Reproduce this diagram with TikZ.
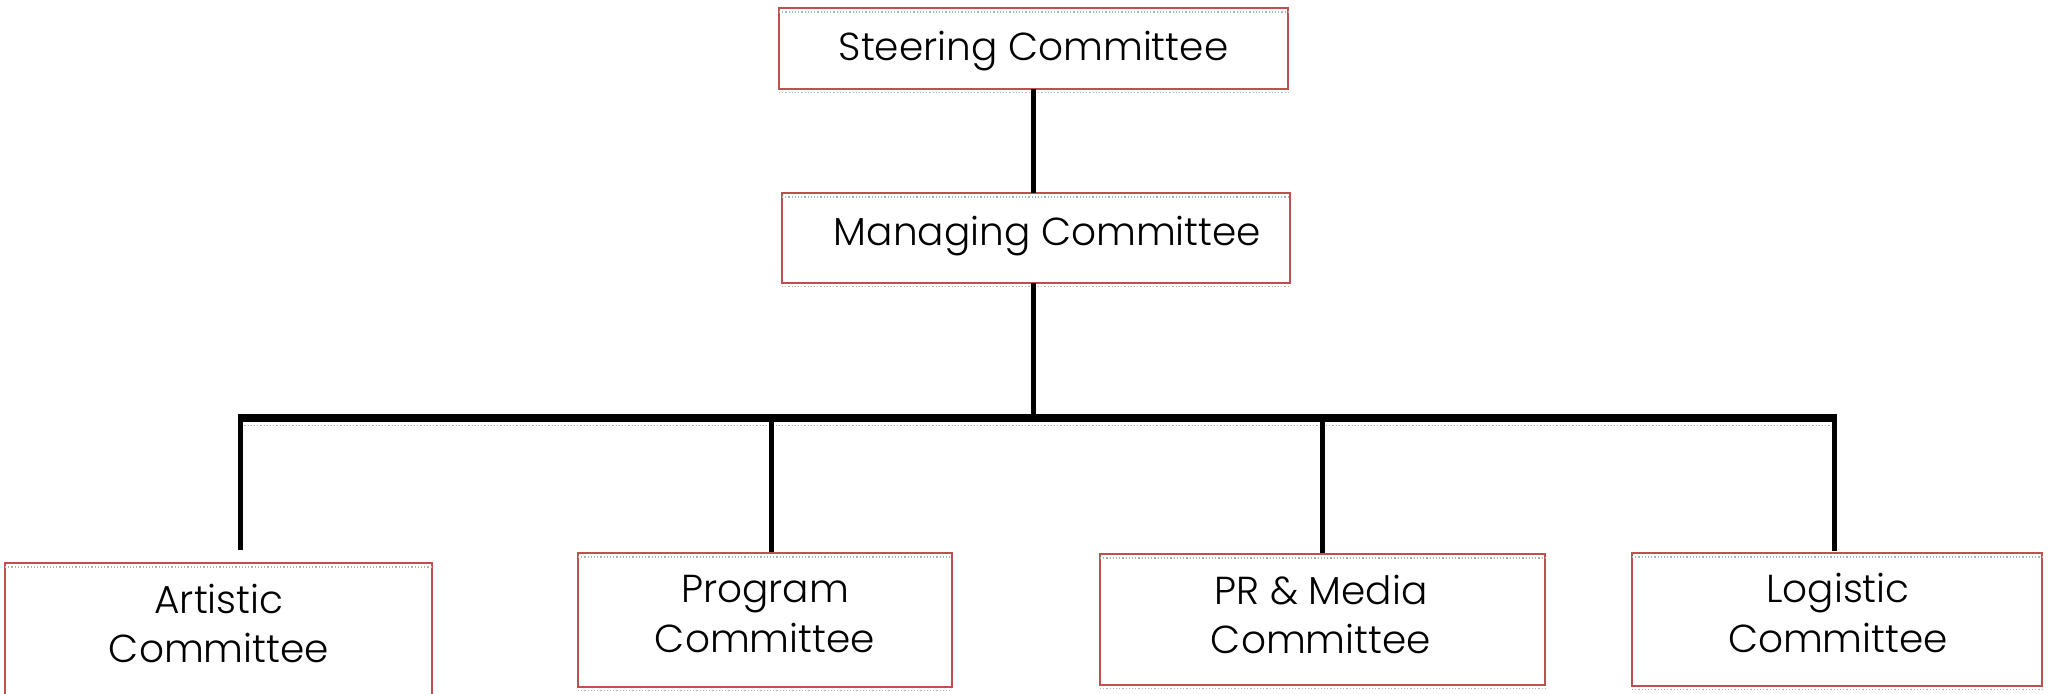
\documentclass[tikz,border=0pt]{standalone}
\usepackage{fontspec}
\IfFontExistsTF{Poppins Light}{\setmainfont{Poppins Light}}{\setmainfont{Poppins}}
\definecolor{boxred}{RGB}{192,80,77}
\begin{document}
\begin{tikzpicture}[x=1pt,y=-1pt,
  cbox/.style={draw=boxred, line width=2pt, rectangle, inner sep=0pt, outer sep=0pt},
  lbl/.style={anchor=base, inner sep=0pt, font=\fontsize{39}{47}\selectfont},
  grayline/.style={draw=black!30, line width=1.2pt, dotted},
  conn/.style={draw=black, line width=5pt},
  barline/.style={draw=black, line width=7.5pt}]
\path[use as bounding box] (0,0) rectangle (2049,693);
\clip (0,0) rectangle (2049,693);
% boxes
\node[cbox, minimum width=509pt, minimum height=81pt] (steer) at (1033.5,48.5) {};
\node[cbox, minimum width=508pt, minimum height=90pt] (manag) at (1036,238) {};
\node[cbox, minimum width=427pt, minimum height=134pt] (art) at (218.5,630) {};
\node[cbox, minimum width=374pt, minimum height=134pt] (prog) at (765,620) {};
\node[cbox, minimum width=445pt, minimum height=131pt] (pr) at (1322.5,619.5) {};
\node[cbox, minimum width=410pt, minimum height=133pt] (log) at (1837,619.5) {};
% faint gray text-box lines
\foreach \b in {steer,manag,art,prog,pr,log}{
  \draw[grayline] ([yshift=-4pt]\b.north west) -- ([yshift=-4pt]\b.north east);
  \draw[grayline] ([yshift=-3.5pt]\b.south west) -- ([yshift=-3.5pt]\b.south east);
}
% texts
\node[lbl] (steerT) at (1033.5,60) {Steering Committee};
\node[lbl] (managT) at (1047.5,245) {Managing Committee};
\node[lbl] (artT1) at (219,613) {Artistic};
\node[lbl] (artT2) at (219,662) {Committee};
\node[lbl] (progT1) at (765,602) {Program};
\node[lbl] (progT2) at (765,652) {Committee};
\node[lbl] (prT1) at (1321,604) {PR \& Media};
\node[lbl] (prT2) at (1321,653) {Committee};
\node[lbl] (logT1) at (1838,602) {Logistic};
\node[lbl] (logT2) at (1838,652) {Committee};
% connectors
\coordinate (hub) at (1033,418);
\coordinate (barL) at (240.5,418);
\coordinate (barR) at (1834.5,418);
\coordinate (progC) at (771,418);
\coordinate (prC) at (1322,418);
\draw[conn] (hub |- steer.south) -- (hub |- manag.north);
\draw[conn, shorten >=2pt] (hub |- manag.south) -- (hub);
\draw[grayline] (238,425.5) -- (1837,425.5);
\draw[barline] ([xshift=-2.5pt]barL) -- ([xshift=2.5pt]barR);
\draw[conn, shorten >=13pt] (barL) -- (barL |- art.north);
\draw[conn, shorten >=1pt] (progC) -- (progC |- prog.north);
\draw[conn, shorten >=1pt] (prC) -- (prC |- pr.north);
\draw[conn, shorten >=2pt] (barR) -- (barR |- log.north);
\end{tikzpicture}
\end{document}
